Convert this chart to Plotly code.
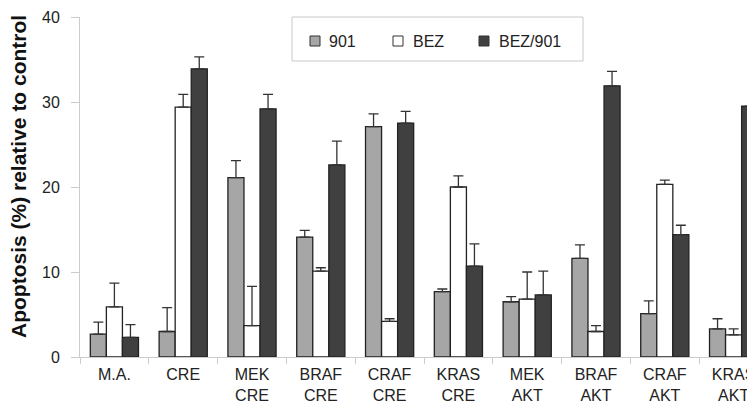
import plotly.graph_objects as go

categories = ["M.A.", "CRE", "MEK<br>CRE", "BRAF<br>CRE", "CRAF<br>CRE", "KRAS<br>CRE",
              "MEK<br>AKT", "BRAF<br>AKT", "CRAF<br>AKT", "KRAS<br>AKT"]
y_ticks = [0, 10, 20, 30, 40]

v_901 = [2.7, 3.0, 21.1, 14.1, 27.1, 7.7, 6.5, 11.6, 5.1, 3.3]
e_901 = [1.4, 2.8, 2.0, 0.8, 1.5, 0.3, 0.6, 1.6, 1.5, 1.2]
v_bez = [5.9, 29.4, 3.7, 10.1, 4.2, 20.0, 6.8, 3.0, 20.3, 2.6]
e_bez = [2.8, 1.5, 4.6, 0.4, 0.3, 1.3, 3.2, 0.7, 0.5, 0.7]
v_combo = [2.3, 33.9, 29.2, 22.6, 27.5, 10.7, 7.3, 31.9, 14.4, 29.5]
e_combo = [1.5, 1.4, 1.7, 2.8, 1.4, 2.6, 2.8, 1.7, 1.1, 0.0]

series_names = ["901", "BEZ", "BEZ/901"]
series_colors = ["#a6a6a6", "#ffffff", "#404040"]
series_vals = [v_901, v_bez, v_combo]
series_errs = [e_901, e_bez, e_combo]

fig = go.Figure()
for name, vals, errs, color in zip(series_names, series_vals, series_errs, series_colors):
    fig.add_trace(go.Bar(
        name=name, x=categories, y=vals, showlegend=False,
        marker=dict(color=color, line=dict(color="#222222", width=1.3)),
        error_y=dict(type="data", symmetric=False, array=errs,
                     arrayminus=[0] * len(errs),
                     color="#333333", thickness=1.3, width=5),
    ))

# page has an 8px body margin; plot area in page coords: x 80..768, y 17..357
PAGE_OFF = 8
L, T = 80 - PAGE_OFF, 17 - PAGE_OFF
W = 768 - PAGE_OFF
H = 408 - PAGE_OFF
PLOT_BOTTOM = 357 - PAGE_OFF
B = H - PLOT_BOTTOM
pw = W - L
ph = PLOT_BOTTOM - T


def px(xp):
    return (xp - 80) / pw


def py(yp):
    return (357 - yp) / ph


shapes = [dict(type="rect", xref="paper", yref="paper",
               x0=px(292), x1=px(583), y0=py(61), y1=py(17),
               line=dict(color="#c8c8c8", width=1), fillcolor="white", layer="above")]
annotations = []
leg_sq_x = [310, 393, 479]
leg_tx_x = [327, 411, 497]
for name, color, sx, tx in zip(series_names, series_colors, leg_sq_x, leg_tx_x):
    shapes.append(dict(type="rect", xref="paper", yref="paper",
                       x0=px(sx), x1=px(sx + 10), y0=py(46), y1=py(36),
                       line=dict(color="#333333", width=1), fillcolor=color, layer="above"))
    annotations.append(dict(text=name, xref="paper", yref="paper", x=px(tx), y=py(41.5),
                            xanchor="left", yanchor="middle", showarrow=False,
                            font=dict(size=16, color="#222222")))

annotations.append(dict(
    text="<b>Apoptosis (%) relative to control</b>",
    xref="paper", yref="paper", x=px(18), y=py(177),
    xanchor="center", yanchor="middle", textangle=-90, showarrow=False,
    font=dict(size=21, color="#111111"),
))

fig.update_layout(
    width=W, height=H,
    margin=dict(l=L, r=0, t=T, b=B),
    paper_bgcolor="white", plot_bgcolor="white",
    barmode="group", bargap=0.30, bargroupgap=0.0,
    font=dict(family="Liberation Sans, Arial, sans-serif", size=16, color="#222222"),
    showlegend=False,
    xaxis=dict(
        type="category", range=[-0.5, 9.5],
        showline=True, linecolor="#cccccc", linewidth=1,
        ticks="outside", tickson="boundaries", ticklen=6, tickcolor="#cccccc",
        ticklabelstandoff=3,
        showgrid=False, zeroline=False, tickfont=dict(size=16, color="#222222"),
    ),
    yaxis=dict(
        range=[0, 40], tickvals=y_ticks,
        showline=True, linecolor="#cccccc", linewidth=1,
        ticks="outside", ticklen=8, tickcolor="#cccccc",
        ticklabelstandoff=8,
        showgrid=False, zeroline=False, tickfont=dict(size=16, color="#222222"),
    ),
    shapes=shapes,
    annotations=annotations,
)

fig.write_html("out.html")
